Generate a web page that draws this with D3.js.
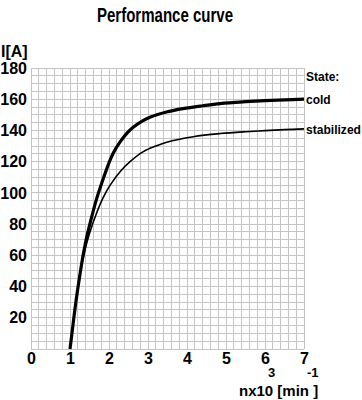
<!DOCTYPE html>
<html><head><meta charset="utf-8">
<script src="https://cdn.jsdelivr.net/npm/d3@7"></script>
<style>
body{margin:0;background:#fff;}
svg text{font-family:"Liberation Sans",Arial,sans-serif;font-weight:bold;fill:#000;}
</style></head>
<body><svg id="c" width="362" height="400"></svg>
<script>
const title = "Performance curve";
const xTicks = [0,1,2,3,4,5,6,7];
const yTicks = [20,40,60,80,100,120,140,160,180];
const seriesNames = ["cold","stabilized"];
const coldX = [1.0,1.05,1.15,1.25,1.35,1.45,1.56,1.68,1.81,1.98,2.12,2.28,2.45,2.62,2.85,3.05,3.5,3.9,4.4,4.85,5.5,6.0,6.5,7.0];
const coldY = [0,10,30,47,62,74,85,96,106,118,126,132.5,138,142,146,148.5,152,154,155.8,157.2,158.4,159.1,159.6,160];
const stabX = [1.0,1.05,1.15,1.25,1.38,1.5,1.68,1.85,2.03,2.3,2.54,2.88,3.2,3.48,4.16,4.85,5.5,6.0,6.5,7.0];
const stabY = [0,10,30,47,63,74,87,97,105,114,120,126.4,130,132.5,136,138,139.2,139.9,140.5,141];

const svg = d3.select("#c");
const x = d3.scaleLinear().domain([0,7]).range([31,304]);
const y = d3.scaleLinear().domain([0,180]).range([349,68]);

const g = svg.append("g");
g.selectAll("line.v").data(d3.range(0,35+1)).join("line")
  .attr("x1",d=>x(d*0.2)).attr("x2",d=>x(d*0.2))
  .attr("y1",y(0)).attr("y2",y(180))
  .attr("stroke","#c4c4c4").attr("stroke-width",1).attr("shape-rendering","crispEdges");
g.selectAll("line.h").data(d3.range(0,36+1)).join("line")
  .attr("y1",d=>y(d*5)).attr("y2",d=>y(d*5))
  .attr("x1",x(0)).attr("x2",x(7))
  .attr("stroke","#c4c4c4").attr("stroke-width",1).attr("shape-rendering","crispEdges");

const yAxis = svg.append("g").attr("transform",`translate(${x(0)},0)`)
  .call(d3.axisLeft(y).tickValues(yTicks).tickSize(0).tickPadding(4));
yAxis.select(".domain").remove();
yAxis.selectAll("text").attr("font-size",16).attr("font-family","Liberation Sans, Arial, sans-serif").attr("font-weight","bold").attr("fill","#000");

const xAxis = svg.append("g").attr("transform",`translate(0,${y(0)})`)
  .call(d3.axisBottom(x).tickValues(xTicks).tickSize(0).tickPadding(4).tickFormat(d3.format("d")));
xAxis.select(".domain").remove();
xAxis.selectAll("text").attr("font-size",16).attr("font-family","Liberation Sans, Arial, sans-serif").attr("font-weight","bold").attr("fill","#000");

const line = d3.line().x(d=>x(d[0])).y(d=>y(d[1])).curve(d3.curveCatmullRom.alpha(0.5));
svg.append("path").datum(stabX.map((v,i)=>[v,stabY[i]]))
  .attr("d",line).attr("fill","none").attr("stroke","#000").attr("stroke-width",1.6);
svg.append("path").datum(coldX.map((v,i)=>[v,coldY[i]]))
  .attr("d",line).attr("fill","none").attr("stroke","#000").attr("stroke-width",3.2);

svg.append("text").attr("x",97).attr("y",22)
  .attr("font-size",20).attr("textLength",136).attr("lengthAdjust","spacingAndGlyphs").text(title);
svg.append("text").attr("x",1).attr("y",57).attr("font-size",16).text("I[A]");

svg.append("text").attr("x",306).attr("y",81).attr("font-size",12).text("State:");
svg.append("text").attr("x",306).attr("y",y(coldY[coldY.length-1])+5).attr("font-size",12).text(seriesNames[0]);
svg.append("text").attr("x",306).attr("y",y(stabY[stabY.length-1])+5).attr("font-size",12).attr("textLength",55).attr("lengthAdjust","spacingAndGlyphs").text(seriesNames[1]);

svg.append("text").attr("x",239).attr("y",396).attr("font-size",15).text("nx10 [min ]");
svg.append("text").attr("x",268).attr("y",377).attr("font-size",13).text("3");
svg.append("text").attr("x",307).attr("y",377).attr("font-size",13).text("-1");
</script></body></html>
